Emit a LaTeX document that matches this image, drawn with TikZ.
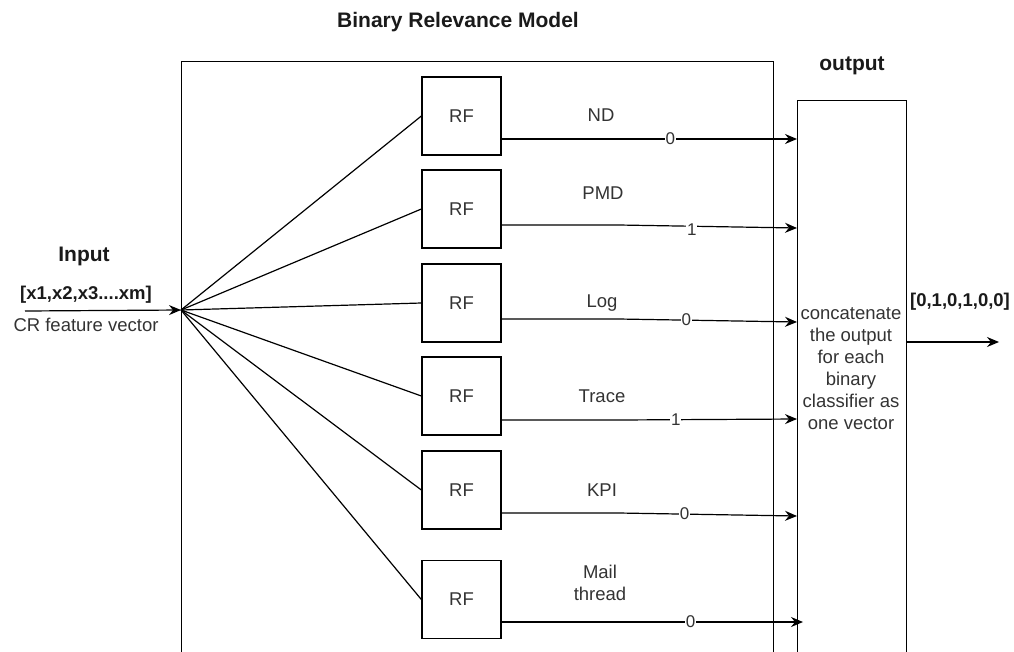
\documentclass[tikz,border=0pt]{standalone}
\usepackage{fontspec}
\setmainfont{Liberation Sans}
\usetikzlibrary{arrows.meta}
\definecolor{txt}{HTML}{333333}
\definecolor{btxt}{HTML}{1A1A1A}
\begin{document}
\begin{tikzpicture}[x=1pt,y=-1pt,
  frame/.style={draw,line width=1.3pt,inner sep=0pt,anchor=north west},
  rfbox/.style={draw,line width=1.3pt,minimum width=79pt,minimum height=78pt,inner sep=0pt,font=\fontsize{18.5}{22}\selectfont,text=txt},
  ln/.style={line width=1.2pt},
  arr/.style={line width=1.2pt,-{Stealth[length=12pt,width=10pt,inset=4pt]}},
  lbl/.style={font=\fontsize{18.5}{22}\selectfont,text=txt,align=center,inner sep=0pt},
  val/.style={font=\fontsize{17}{20}\selectfont,text=txt,fill=white,inner sep=0.6pt},
  bld/.style={font=\bfseries\fontsize{21}{25}\selectfont,text=btxt,inner sep=0pt},
  bldsm/.style={font=\bfseries\fontsize{18.5}{22}\selectfont,text=btxt,inner sep=0pt}]
\useasboundingbox (0,0) rectangle (1014,651);
\clip (0,0) rectangle (1014,651);

% frames
\node[frame,minimum width=592pt,minimum height=660pt] (brm) at (181,61) {};
\node[frame,minimum width=109pt,minimum height=620pt] (outbox) at (797,100) {};

% titles
\node[bld] (title) at (458,22) {Binary Relevance Model};
\node[bld] (outtitle) at (852,66) {output};
\node[bld] (intitle) at (84,256) {Input};
\node[bldsm] (invec) at (86,295) {[x1,x2,x3....xm]};
\node[lbl] (incap) at (86,325) {CR feature vector};
\node[bldsm] (outvec) at (960,302) {[0,1,0,1,0,0]};
\node[lbl] (concat) at (851,369) {concatenate\\the output\\for each\\binary\\classifier as\\one vector};

% RF boxes
\node[rfbox] (rf1) at (461.5,116) {RF};
\node[rfbox] (rf2) at (461.5,209) {RF};
\node[rfbox] (rf3) at (461.5,303) {RF};
\node[rfbox] (rf4) at (461.5,396) {RF};
\node[rfbox] (rf5) at (461.5,490) {RF};
\node[rfbox] (rf6) at (461.5,599.5) {RF};

% class labels
\node[lbl] (l1) at (601,115) {ND};
\node[lbl] (l2) at (603,193) {PMD};
\node[lbl] (l3) at (602,303) {Log};
\node[lbl] (l4) at (602,396) {Trace};
\node[lbl] (l5) at (602,490) {KPI};
\node[lbl] (l6) at (600,583) {Mail\\thread};

% input
\coordinate (fan) at (181,310);
\coordinate (src) at (25,311);
\draw[arr] (src) -- (fan);
\foreach \i in {1,...,6} \draw[ln] (fan) -- (rf\i.west);

% output ends
\coordinate (o1) at (797,139);
\coordinate (o2) at (797,228);
\coordinate (o3) at (797,322);
\coordinate (o4) at (797,419);
\coordinate (o5) at (797,516);
\coordinate (o6) at (803,622);
\coordinate (fin) at (999,342);

\draw[arr] ([yshift=-23pt]rf1.east) -- ++(117,0) -- node[val,pos=0.29] {0} (o1);
\draw[arr] ([yshift=-16pt]rf2.east) -- ++(117,0) -- node[val,pos=0.41,yshift=-3pt] {1} (o2);
\draw[arr] ([yshift=-16pt]rf3.east) -- ++(117,0) -- node[val,pos=0.38] {0} (o3);
\draw[arr] ([yshift=-24pt]rf4.east) -- ++(117,0) -- node[val,pos=0.32] {1} (o4);
\draw[arr] ([yshift=-23pt]rf5.east) -- ++(117,0) -- node[val,pos=0.37] {0} (o5);
\draw[arr] ([yshift=-22.5pt]rf6.east) -- ++(117,0) -- node[val,pos=0.39] {0} (o6);

\draw[arr] (outbox.east |- fin) -- (fin);
\end{tikzpicture}
\end{document}
